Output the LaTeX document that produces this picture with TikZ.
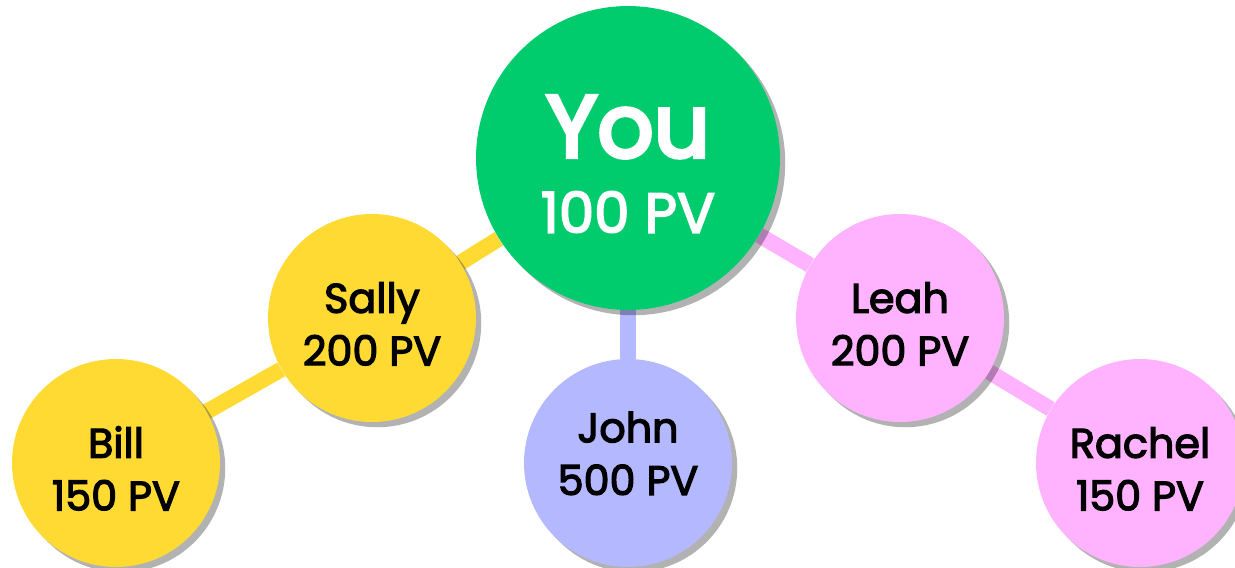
\documentclass[tikz,border=0pt]{standalone}
\usepackage{fontspec}
\setmainfont{Poppins}
\newfontfamily\demifont{Poppins}[FakeBold=3]
\newfontfamily\heavyfont{Poppins}[FakeBold=4.5]
\usetikzlibrary{shadows, backgrounds}

\definecolor{youGreen}{HTML}{00CC6E}
\definecolor{sunYellow}{HTML}{FFDA33}
\definecolor{softBlue}{HTML}{B3B8FF}
\definecolor{softPink}{HTML}{FFB3FF}

% strut to push the two lines down a bit
\newcommand{\toppad}{\rule{0pt}{24pt}}

\tikzset{
  member/.style={circle, fill=#1, minimum size=4.16cm, inner sep=0pt, align=center,
    font=\demifont\fontsize{23.5}{30}\selectfont,
    drop shadow={shadow xshift=3pt, shadow yshift=-3pt, opacity=0.3, fill=black}},
  link/.style={line width=9pt, draw=#1}
}

\begin{document}
\begin{tikzpicture}[x=0.02cm, y=-0.02cm]
    % Marco
    \useasboundingbox (0,0) rectangle (1235,568);

    % Centro
    \node[member=youGreen, minimum size=6.08cm, text=white] (you) at (628,158)
      {\heavyfont\fontsize{50}{50}\selectfont\rule{0pt}{42pt}You\\[13pt]\demifont\fontsize{32}{32}\selectfont 100 PV};

    % Rama izquierda
    \node[member=sunYellow] (sally) at (372,318) {\toppad Sally\\200 PV};
    \node[member=sunYellow] (bill) at (116,463) {\toppad Bill\\150 PV};

    % Rama central
    \node[member=softBlue] (john) at (628,463) {John\\500 PV\rule[-11pt]{0pt}{0pt}};

    % Rama derecha
    \node[member=softPink] (leah) at (900,318) {\toppad Leah\\200 PV};
    \node[member=softPink] (rachel) at (1140,463) {\toppad Rachel\\150 PV};

    % Enlaces
    \begin{pgfonlayer}{background}
      \draw[link=sunYellow] (you) -- (sally);
      \draw[link=sunYellow] (sally) -- (bill);
      \draw[link=softBlue] (you) -- (john);
      \draw[link=softPink] (you) -- (leah);
      \draw[link=softPink] (leah) -- (rachel);
    \end{pgfonlayer}
\end{tikzpicture}
\end{document}
